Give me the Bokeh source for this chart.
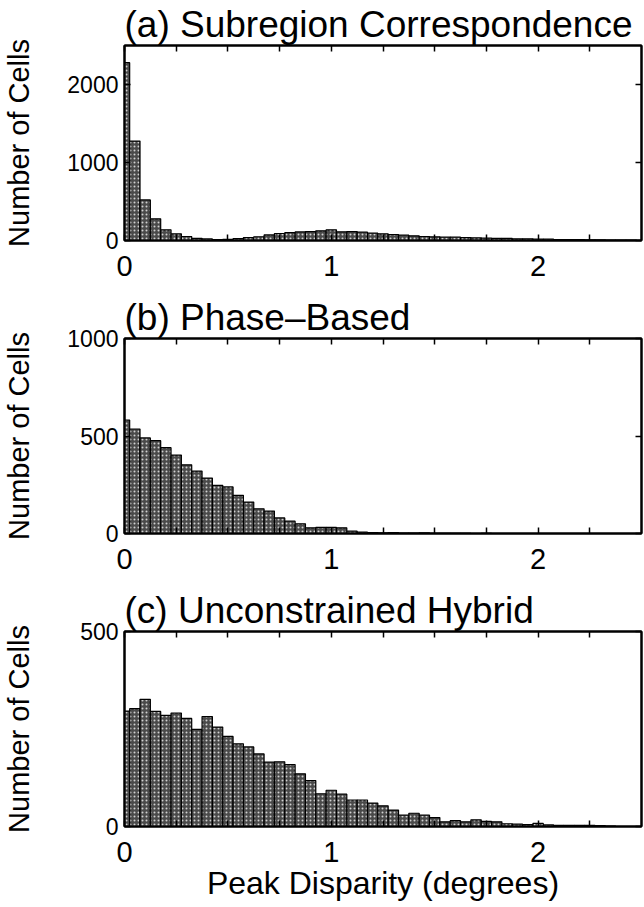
from bokeh.plotting import figure
from bokeh.models import FixedTicker, LinearAxis, Range1d
from bokeh.layouts import column
from bokeh.embed import file_html
from bokeh.resources import INLINE

# Histogram bin centres (degrees), bin width 0.05
bin_centers = [0.00, 0.05, 0.10, 0.15, 0.20, 0.25, 0.30, 0.35, 0.40, 0.45,
               0.50, 0.55, 0.60, 0.65, 0.70, 0.75, 0.80, 0.85, 0.90, 0.95,
               1.00, 1.05, 1.10, 1.15, 1.20, 1.25, 1.30, 1.35, 1.40, 1.45,
               1.50, 1.55, 1.60, 1.65, 1.70, 1.75, 1.80, 1.85, 1.90, 1.95,
               2.00, 2.05, 2.10, 2.15, 2.20, 2.25, 2.30, 2.35, 2.40, 2.45]
bin_width = 0.05

counts_a = [2280, 1275, 520, 278, 137, 85, 51, 28, 20, 12, 14, 24, 38, 48, 72, 90,
            100, 110, 115, 124, 137, 111, 115, 107, 94, 85, 77, 68, 60, 51, 47, 43,
            43, 38, 34, 30, 26, 26, 21, 21, 17, 17, 13, 13, 10, 9, 8, 6, 5, 5]
counts_b = [582, 536, 490, 476, 440, 402, 352, 320, 284, 247, 239, 196, 161, 127, 115, 80,
            63, 50, 29, 31, 31, 29, 12, 7, 5, 3, 5, 2, 2, 3, 1, 1,
            1, 1, 0, 1, 0, 0, 0, 0, 0, 0, 0, 0, 0, 0, 0, 0, 0, 0]
counts_c = [296, 302, 326, 295, 285, 291, 277, 249, 282, 255, 231, 212, 204, 186, 165, 166,
            159, 135, 118, 84, 93, 83, 68, 68, 60, 53, 42, 29, 34, 29, 23, 12,
            15, 12, 17, 13, 12, 7, 6, 5, 8, 4, 3, 3, 3, 3, 2, 1, 0, 0]

titles = ["(a) Subregion Correspondence", "(b) Phase\u2013Based", "(c) Unconstrained Hybrid"]
y_max = [2500, 1000, 500]
y_ticks = [[0, 1000, 2000], [0, 500, 1000], [0, 500]]
x_major = [0, 1, 2]
x_minor = [0.25, 0.5, 0.75, 1.25, 1.5, 1.75, 2.25]
x_all = [0, 0.25, 0.5, 0.75, 1, 1.25, 1.5, 1.75, 2, 2.25]
y_label = "Number of Cells"
x_label = "Peak Disparity (degrees)"

FONT = "Liberation Sans"


def style_axis(ax):
    ax.axis_line_color = "black"
    ax.axis_line_width = 2
    ax.major_tick_in = 6
    ax.major_tick_out = 0
    ax.minor_tick_in = 6
    ax.minor_tick_out = 0
    ax.major_tick_line_color = "black"
    ax.major_tick_line_width = 1.5
    ax.minor_tick_line_color = "black"
    ax.minor_tick_line_width = 1.5
    ax.major_label_text_font = FONT
    ax.major_label_text_color = "black"


def make_panel(i, counts, last):
    bottom = 81 if last else 53
    height = 45 + 195 + bottom
    p = figure(width=644, height=height, x_range=Range1d(0, 2.5),
               y_range=Range1d(0, y_max[i]), output_backend="svg",
               toolbar_location=None, min_border_left=124, min_border_right=3,
               min_border_top=45, min_border_bottom=bottom)
    p.vbar(x=bin_centers, top=counts, width=bin_width, bottom=0,
           fill_color="#4a4a4a", hatch_pattern=".", hatch_color="#d0d0d0",
           hatch_scale=4, line_color="black", line_width=1.2)
    p.grid.visible = False
    p.background_fill_color = "white"
    p.border_fill_color = "white"
    p.outline_line_color = "black"
    p.outline_line_width = 2

    p.title.text = titles[i]
    p.title.text_font = FONT
    p.title.text_font_size = "37px"
    p.title.text_font_style = "normal"
    p.title.text_color = "black"
    p.title.standoff = 1

    xa = p.xaxis[0]
    xa.ticker = FixedTicker(ticks=x_major, minor_ticks=x_minor)
    style_axis(xa)
    xa.major_label_text_font_size = "29px"
    xa.major_label_standoff = 15
    ya = p.yaxis[0]
    ya.ticker = FixedTicker(ticks=y_ticks[i])
    style_axis(ya)
    ya.major_label_text_font_size = "23px"
    ya.major_label_standoff = 6
    ya.axis_label = y_label
    ya.axis_label_text_font = FONT
    ya.axis_label_text_font_size = "29px"
    ya.axis_label_text_font_style = "normal"
    ya.axis_label_text_color = "black"
    ya.axis_label_standoff = 42 if i == 2 else 29
    if last:
        xa.axis_label = x_label
        xa.axis_label_text_font = FONT
        xa.axis_label_text_font_size = "32px"
        xa.axis_label_text_font_style = "normal"
        xa.axis_label_text_color = "black"
        xa.axis_label_standoff = 0

    # tick marks only (no labels) on the top and right edges
    top = LinearAxis(ticker=FixedTicker(ticks=[], minor_ticks=x_all))
    style_axis(top)
    top.major_label_standoff = 0
    p.add_layout(top, "above")
    right = LinearAxis(ticker=FixedTicker(ticks=[], minor_ticks=y_ticks[i]))
    style_axis(right)
    right.major_label_standoff = 0
    p.add_layout(right, "right")
    return p


pa = make_panel(0, counts_a, False)
pb = make_panel(1, counts_b, False)
pc = make_panel(2, counts_c, True)
layout = column(pa, pb, pc, spacing=0)
open("out.html", "w").write(file_html(layout, INLINE))
